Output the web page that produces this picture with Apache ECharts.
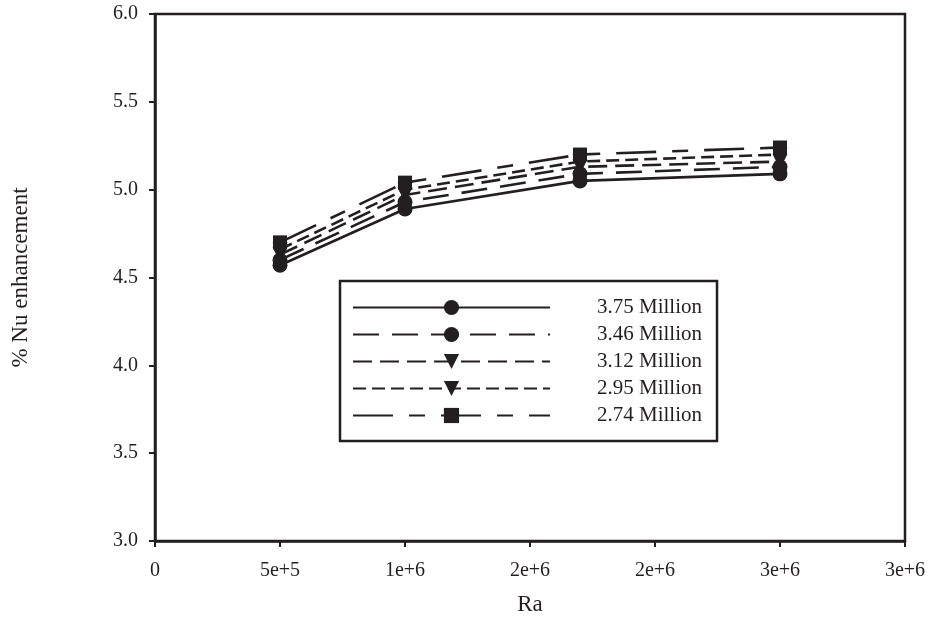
<!DOCTYPE html>
<html>
<head>
<meta charset="utf-8">
<script src="https://cdn.jsdelivr.net/npm/echarts@6/dist/echarts.min.js"></script>
<style>
  html, body { margin: 0; padding: 0; background: #fff; }
  #chart { width: 930px; height: 629px; }
</style>
</head>
<body>
<div id="chart"></div>
<script>
// Rayleigh numbers where the enhancement was evaluated
const raValues = [500000, 1000000, 1700000, 2500000];

// % Nu enhancement for each case
const nu375 = [4.57, 4.89, 5.05, 5.09];
const nu346 = [4.60, 4.93, 5.09, 5.13];
const nu312 = [4.63, 4.97, 5.13, 5.16];
const nu295 = [4.66, 5.00, 5.16, 5.20];
const nu274 = [4.70, 5.04, 5.20, 5.24];

const seriesNames = ['3.75 Million', '3.46 Million', '3.12 Million', '2.95 Million', '2.74 Million'];

// x-axis tick labels, one per 5e+5 step
const xTickLabels = ['0', '5e+5', '1e+6', '2e+6', '2e+6', '3e+6', '3e+6'];

const ink = '#231f20';
const font = 'Liberation Serif';

function pairs(ys) {
  return raValues.map((x, i) => [x, ys[i]]);
}

function makeSeries(name, ys, dash, symbol, size, rotate) {
  return {
    name: name,
    type: 'line',
    data: pairs(ys),
    symbol: symbol,
    symbolSize: size,
    symbolRotate: rotate || 0,
    smooth: false,
    itemStyle: { color: ink, borderWidth: 0 },
    lineStyle: { color: ink, width: 2.6, type: dash },
    emphasis: { disabled: true },
    z: 3
  };
}

const chart = echarts.init(document.getElementById('chart'), null, { renderer: 'canvas' });

chart.setOption({
  animation: false,
  backgroundColor: '#fff',
  grid: {
    left: 155, right: 25, top: 14, bottom: 88,
    show: true, borderColor: ink, borderWidth: 2.5, backgroundColor: 'transparent'
  },
  xAxis: {
    type: 'value',
    min: 0, max: 3000000, interval: 500000,
    name: 'Ra',
    nameLocation: 'middle',
    nameGap: 52,
    nameTextStyle: { fontFamily: font, fontSize: 23, color: ink },
    axisLine: { show: true, lineStyle: { color: ink, width: 2.5 } },
    axisTick: { show: true, length: 6, lineStyle: { color: ink, width: 2 } },
    axisLabel: {
      fontFamily: font, fontSize: 20, color: ink, margin: 20,
      formatter: (v) => xTickLabels[Math.round(v / 500000)]
    },
    splitLine: { show: false }
  },
  yAxis: {
    type: 'value',
    min: 3, max: 6, interval: 0.5,
    name: '% Nu enhancement',
    nameLocation: 'middle',
    nameGap: 123,
    nameRotate: 90,
    nameTextStyle: { fontFamily: font, fontSize: 23, color: ink },
    axisLine: { show: true, lineStyle: { color: ink, width: 2.5 } },
    axisTick: { show: true, length: 6, lineStyle: { color: ink, width: 2 } },
    axisLabel: {
      fontFamily: font, fontSize: 20, color: ink, margin: 17,
      formatter: (v) => v.toFixed(1)
    },
    splitLine: { show: false }
  },
  legend: {
    orient: 'vertical',
    left: 340, top: 281,
    padding: [16, 15, 15, 12],
    itemWidth: 197,
    itemHeight: 19,
    itemGap: 6,
    backgroundColor: '#fff',
    borderColor: ink,
    borderWidth: 2.5,
    selectedMode: false,
    textStyle: { fontFamily: font, fontSize: 21, lineHeight: 21, color: ink, padding: [0, 0, 0, 42] },
    data: seriesNames
  },
  series: [
    makeSeries(seriesNames[0], nu375, 'solid', 'circle', 15),
    makeSeries(seriesNames[1], nu346, [26, 13], 'circle', 15),
    makeSeries(seriesNames[2], nu312, [19, 8], 'triangle', 15, 180),
    makeSeries(seriesNames[3], nu295, [13, 6], 'triangle', 15, 180),
    makeSeries(seriesNames[4], nu274, [40, 16, 16, 16], 'rect', 14)
  ]
});
</script>
</body>
</html>
